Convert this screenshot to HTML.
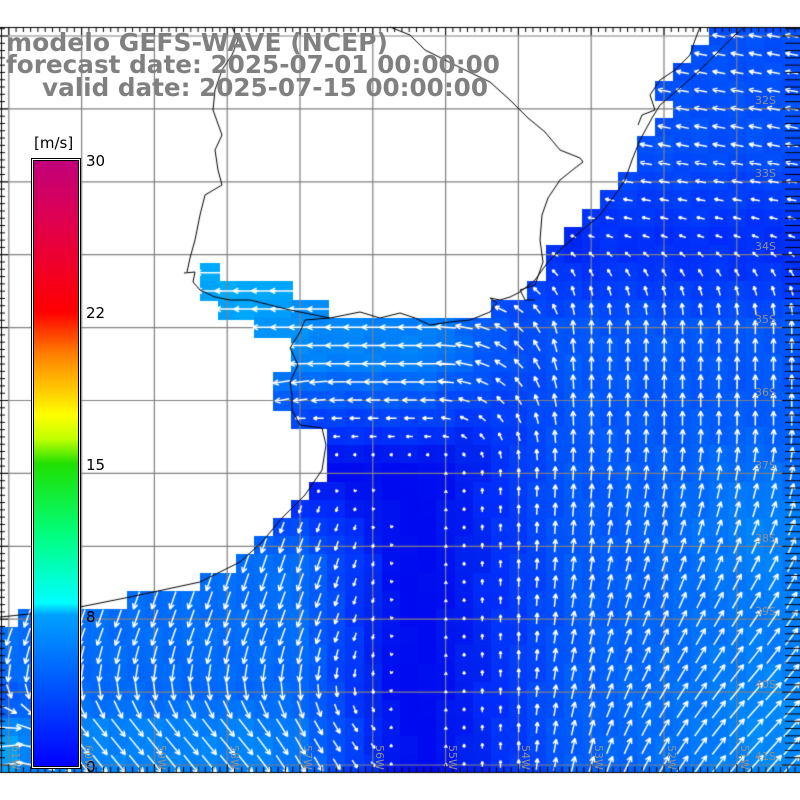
<!DOCTYPE html>
<html><head><meta charset="utf-8"><style>
html,body{margin:0;padding:0;background:#fff;width:800px;height:800px;overflow:hidden}
#c{position:absolute;left:0;top:0}
svg{position:absolute;left:0;top:0}
</style></head><body>
<canvas id="c" width="800" height="800"></canvas>
<svg width="800" height="800" xmlns="http://www.w3.org/2000/svg">
<defs><linearGradient id="cb" x1="0" y1="1" x2="0" y2="0">
<stop offset="0" stop-color="#0000ff"/><stop offset="0.25" stop-color="#00a0ff"/>
<stop offset="0.27" stop-color="#00ffff"/><stop offset="0.38" stop-color="#00ff80"/>
<stop offset="0.5" stop-color="#20e000"/><stop offset="0.54" stop-color="#c0ff00"/>
<stop offset="0.58" stop-color="#ffff00"/><stop offset="0.68" stop-color="#ff8000"/>
<stop offset="0.75" stop-color="#ff0000"/><stop offset="0.9" stop-color="#e00050"/>
<stop offset="1" stop-color="#c0007a"/></linearGradient></defs>
<rect x="31.5" y="158.5" width="49" height="610" fill="#fff" stroke="#000"/>
<rect x="33.5" y="160.5" width="45" height="606" fill="url(#cb)" stroke="#000"/>
<g font-family="DejaVu Sans, sans-serif" font-size="15" fill="#000">
<text x="34" y="148">[m/s]</text>
<text x="86" y="166">30</text><text x="86" y="318">22</text>
<text x="86" y="470">15</text><text x="86" y="622">8</text><text x="86" y="772">0</text>
</g>
<g font-family="DejaVu Sans, sans-serif" font-size="11" fill="#909090">
<text x="755" y="104">32S</text><text x="755" y="177">33S</text><text x="755" y="250">34S</text>
<text x="755" y="323">35S</text><text x="755" y="396">36S</text><text x="755" y="469">37S</text>
<text x="755" y="542">38S</text><text x="755" y="615">39S</text><text x="755" y="688">40S</text><text x="755" y="760">41S</text>
<text transform="translate(12,745) rotate(90)">61W</text><text transform="translate(85,745) rotate(90)">60W</text>
<text transform="translate(158,745) rotate(90)">59W</text><text transform="translate(231,745) rotate(90)">58W</text>
<text transform="translate(304,745) rotate(90)">57W</text><text transform="translate(376,745) rotate(90)">56W</text>
<text transform="translate(449,745) rotate(90)">55W</text><text transform="translate(522,745) rotate(90)">54W</text>
<text transform="translate(595,745) rotate(90)">53W</text><text transform="translate(668,745) rotate(90)">52W</text>
<text transform="translate(741,745) rotate(90)">51W</text>
</g>
<g font-family="DejaVu Sans, sans-serif" font-weight="bold" font-size="25" fill="#808080">
<text x="6" y="51" textLength="382" lengthAdjust="spacingAndGlyphs">modelo GEFS-WAVE (NCEP)</text>
<text x="6" y="73" textLength="494" lengthAdjust="spacingAndGlyphs">forecast date: 2025-07-01 00:00:00</text>
<text x="42" y="96" textLength="446" lengthAdjust="spacingAndGlyphs">valid date: 2025-07-15 00:00:00</text>
</g>
</svg>
<script>
var c=document.getElementById('c'),g=c.getContext('2d');
var rows=[[27,710],[45,692],[63,673],[82,655],[100,673],[118,655],[136,636],[154,636],[173,618],[192,600],[210,582],[228,563],[247,545],[265,545],[283,527],[300,492],[318,255],[337,291],[355,291],[373,273],[392,273],[408,291],[427,327],[445,327],[463,327],[482,310],[500,291],[518,273],[537,255],[555,237],[573,200],[590,127],[609,18],[627,0],[645,0],[663,0],[681,0],[700,0],[718,0],[736,0],[754,0]];
var extra=[[265,200,218],[283,200,290],[300,218,327]];
function sm(a,b,t){var r=(t-a)/(b-a);return r<0?0:r>1?1:r;}
function bl(x,y,cx,cy,r){var d=((x-cx)*(x-cx)+(y-cy)*(y-cy))/(r*r);return Math.exp(-d);}
function field(x,y){
 var u=0,v=0;
 var w=sm(470,360,y)*sm(580,430,x)*7; u-=w;
 var est=sm(330,270,y)*sm(360,250,x)*1.5; u-=est;
 var n=sm(430,570,x)*sm(230,330,y)*4.5; v+=n;
 var ne=sm(420,700,y)*sm(520,760,x)*5; u+=ne; v+=ne*0.2;
 var nw=sm(330,150,y)*sm(520,600,x)*4; u-=nw; v+=nw*0.2;
 var s=sm(400,300,x)*sm(470,560,y)*5.5; v-=s; u-=s*0.35*sm(700,640,y);
 var se=sm(680,730,y)*sm(420,250,x)*4.5; u+=se;
 var dl=sm(60,0,x)*sm(680,740,y)*5; u+=dl; v+=dl*1.5;
 var wl=sm(420,370,y)*sm(340,290,x)*sm(360,420,y)*3; v-=wl;
 return [u,v];
}
function isOcean(cx,cy){
 for(var i=0;i<extra.length;i++){var e=extra[i];if(cy>=e[0]&&cy<e[0]+18.5&&cx>=e[1]&&cx<e[2])return true;}
 for(var i=0;i<rows.length;i++){var r=rows[i];var nx=i+1<rows.length?rows[i+1][0]:800;if(cy>=r[0]&&cy<nx)return cx>=r[1];}
 return false;
}
var cs=18.2,cells=[];
for(var j=0;j<41;j++)for(var i=0;i<44;i++){
 var x0=i*cs,y0=27+j*cs;if(y0>772)continue;
 var cx=x0+cs/2,cy=y0+cs/2;
 if(!isOcean(cx,cy))continue;
 var f=field(cx,cy),sp=Math.hypot(f[0],f[1]);
 var gg=15+sp*17+ 30*bl(cx,cy,760,520,80)+25*bl(cx,cy,250,300,70)-(i*7+j*13)%11;
 gg=Math.max(10,Math.min(190,gg));
 g.fillStyle='rgb(0,'+Math.round(gg)+','+(gg<40?240:250)+')';
 g.fillRect(Math.floor(x0),Math.floor(y0),Math.ceil(cs)+1,Math.min(Math.ceil(cs)+1,772-Math.floor(y0)));
 cells.push([cx,cy,f,sp]);
}
g.strokeStyle='#808080';g.lineWidth=1.2;
for(var k=0;k<11;k++){var x=8.8+72.8*k;g.beginPath();g.moveTo(x,27);g.lineTo(x,772);g.stroke();}
for(var k=0;k<11;k++){var y=36+72.9*k;if(y>772)break;g.beginPath();g.moveTo(0,y);g.lineTo(800,y);g.stroke();}
g.strokeStyle='#fff';g.lineWidth=1.5;
cells.forEach(function(a){
 var cx=a[0],cy=a[1],u=a[2][0],v=-a[2][1],sp=a[3];if(sp<0.3)return;
 var L=Math.min(28,sp*3.2),dx=u/sp,dy=v/sp;
 var tx=cx-dx*L/2,ty=cy-dy*L/2,hx=cx+dx*L/2,hy=cy+dy*L/2,h=Math.min(6,Math.max(3,L*0.4));
 g.beginPath();g.moveTo(tx,ty);g.lineTo(hx,hy);
 var an=Math.atan2(dy,dx);
 g.moveTo(hx,hy);g.lineTo(hx-h*Math.cos(an-0.45),hy-h*Math.sin(an-0.45));
 g.moveTo(hx,hy);g.lineTo(hx-h*Math.cos(an+0.45),hy-h*Math.sin(an+0.45));
 g.stroke();
});
g.strokeStyle='#000';g.lineWidth=1;
function pl(p){g.beginPath();g.moveTo(p[0],p[1]);for(var i=2;i<p.length;i+=2)g.lineTo(p[i],p[i+1]);g.stroke();}
pl([0,617,40,613,80,607,130,597,200,582,240,562,262,542,282,518,305,495,322,470,326,445,322,428,300,425,292,410,292,395,290,382,298,365,290,348,300,332,305,320,330,318,360,312,380,318,400,313,415,318,430,325,450,322,470,320,490,312,497,303,490,298,500,300,510,297,520,292,535,280,548,262,560,250,580,232,600,215,615,195,625,180,632,160,640,140,652,118,660,105,680,88,700,70,720,50,735,35,745,27]);
pl([184,273,195,272,193,282,200,290,215,297,230,300,250,300,270,305,290,310,310,314,330,318]);
pl([232,27,238,40,232,55,222,70,215,90,213,110,222,135,215,150,218,170,222,185,205,195,200,215,195,240,190,258,187,272]);
pl([390,27,410,35,425,50,445,60,465,70,490,82,510,100,528,118,545,132,560,150,580,158,583,162,575,168,560,180,548,198,542,215,540,240,543,262,535,285,520,290]);
pl([520,290,525,300,535,300]);
pl([700,27,695,40,690,55,675,70,660,80,650,95,655,110,642,115,638,125]);
g.lineWidth=1;g.beginPath();g.moveTo(0,27.5);g.lineTo(800,27.5);g.moveTo(0,772.5);g.lineTo(800,772.5);g.moveTo(1.5,27);g.lineTo(1.5,772);g.stroke();
g.beginPath();
for(var k=-1;k<112;k++){var x=8.8+7.28*k;if(x<0||x>800)continue;var L=(k%10==0)?8:5;g.moveTo(x,27);g.lineTo(x,27+L);g.moveTo(x,772);g.lineTo(x,772-L);}
for(var k=-2;k<103;k++){var y=36+7.29*k;if(y<27||y>772)continue;var L=(k%10==0)?8:5;g.moveTo(0,y);g.lineTo(L,y);g.moveTo(800,y);g.lineTo(800-L-10,y);}
g.stroke();
</script>
</body></html>
